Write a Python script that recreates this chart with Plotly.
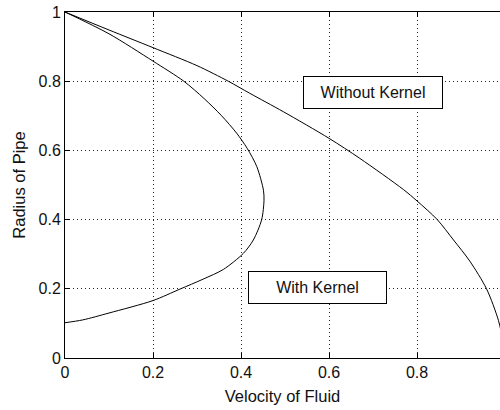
import plotly.graph_objects as go

# Without Kernel curve (velocity, radius)
without_x = [0.0, 0.1, 0.2, 0.3, 0.371, 0.42, 0.496, 0.6, 0.67, 0.769, 0.8, 0.846, 0.883, 0.92, 0.958, 0.985, 0.995, 1.0]
without_y = [1.0, 0.948, 0.897, 0.845, 0.8, 0.765, 0.712, 0.635, 0.577, 0.487, 0.454, 0.4, 0.341, 0.28, 0.2, 0.109, 0.05, 0.0]

# With Kernel curve (velocity, radius)
with_x = [0.0, 0.04, 0.1, 0.2, 0.261, 0.314, 0.36, 0.405, 0.428, 0.447, 0.4523, 0.451, 0.436, 0.414, 0.39, 0.356, 0.316, 0.27, 0.2, 0.1, 0.0]
with_y = [0.102, 0.11, 0.13, 0.166, 0.199, 0.228, 0.256, 0.302, 0.341, 0.4, 0.456, 0.485, 0.553, 0.606, 0.65, 0.7, 0.75, 0.8, 0.858, 0.937, 1.0]

tick_vals = [0, 0.2, 0.4, 0.6, 0.8, 1]
tick_text = ["0", "0.2", "0.4", "0.6", "0.8", "1"]

label_without = "Without Kernel"
label_with = "With Kernel"
label_without_pos = (0.70, 0.768)
label_with_pos = (0.574, 0.203)

FONT = "Liberation Sans, Arial, sans-serif"

fig = go.Figure()
fig.add_trace(go.Scatter(x=without_x, y=without_y, mode="lines",
                         line=dict(color="black", width=1, shape="spline", smoothing=0.8),
                         showlegend=False))
fig.add_trace(go.Scatter(x=with_x, y=with_y, mode="lines",
                         line=dict(color="black", width=1, shape="spline", smoothing=0.8),
                         showlegend=False))

for txt, (ax, ay), w in [(label_without, label_without_pos, 138), (label_with, label_with_pos, 137)]:
    fig.add_annotation(x=ax, y=ay, xref="x", yref="y", text=txt, showarrow=False,
                       font=dict(family=FONT, size=16, color="#111"),
                       bgcolor="white", bordercolor="black", borderwidth=1,
                       borderpad=0, width=w, height=31)

axis_common = dict(
    showline=True, linecolor="black", linewidth=1,
    ticks="inside", ticklen=5, tickcolor="black", tickwidth=1,
    showgrid=True, gridcolor="#222", gridwidth=1, griddash="1px,3px",
    zeroline=False,
    tickfont=dict(family=FONT, size=16, color="#111"),
    tickvals=tick_vals, ticktext=tick_text,
)

fig.update_layout(
    width=500, height=410,
    margin=dict(l=65, r=0, t=12, b=52),
    paper_bgcolor="white", plot_bgcolor="white",
    xaxis=dict(range=[0, 435 / 440], mirror="ticks",
               title=dict(text="Velocity of Fluid", font=dict(family=FONT, size=16.5, color="#111"), standoff=10),
               **axis_common),
    yaxis=dict(range=[0, 1],
               title=dict(text="Radius of Pipe", font=dict(family=FONT, size=16.5, color="#111"), standoff=8),
               **axis_common),
)

fig.write_html("out.html")
